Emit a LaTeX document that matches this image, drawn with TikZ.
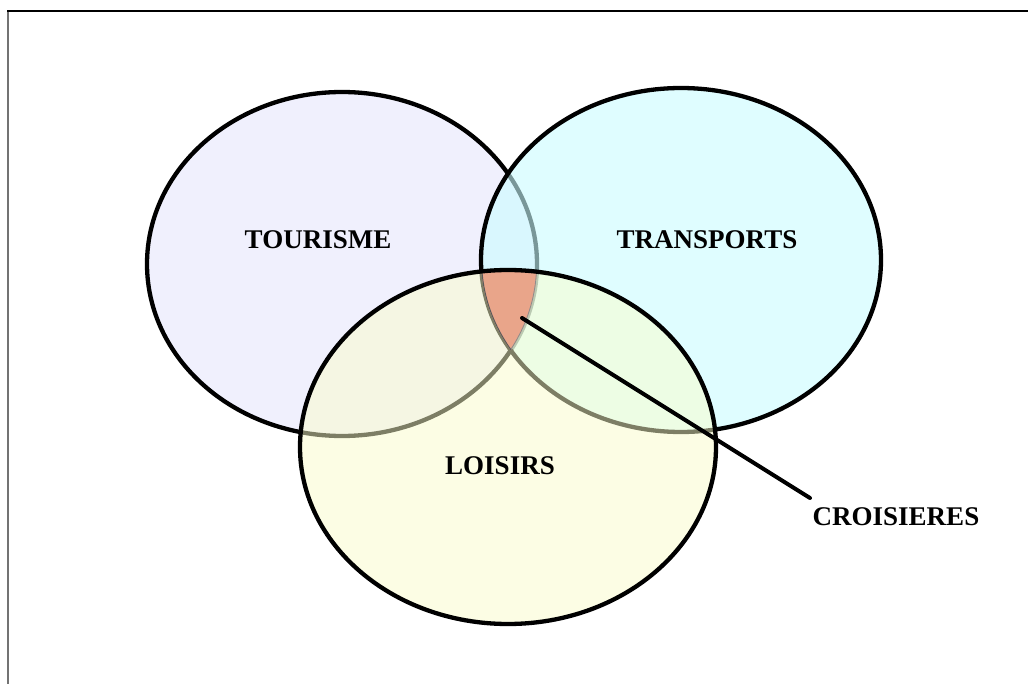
\documentclass[tikz,border=0pt]{standalone}
\usepackage{fontspec}
\setmainfont{Liberation Serif}
\begin{document}
\begin{tikzpicture}[x=1pt,y=-1pt,
  lbl/.style={font=\fontsize{27}{32}\selectfont\bfseries, inner sep=0pt, anchor=center},
  venn/.style={line width=4.3pt, draw=black}]
\useasboundingbox (0,0) rectangle (1028,684);
\fill[white] (0,0) rectangle (1028,684);
% frame
\draw[line width=2pt, black!55] (8,684) -- (8,11);
\draw[line width=2pt, black] (7,11) -- (1028,11);
% centres
\coordinate (tc) at (342,264);
\coordinate (pc) at (681,260);
\coordinate (lc) at (508,447);
\def\tourP{(tc) ellipse [x radius=195pt, y radius=172pt]}
\def\tranP{(pc) ellipse [x radius=200pt, y radius=172pt]}
\def\loisP{(lc) ellipse [x radius=208pt, y radius=177pt]}
% Tourisme
\filldraw[venn, fill={rgb,255:red,240;green,240;blue,253}] \tourP;
% Transports
\fill[fill={rgb,255:red,203;green,252;blue,255}, fill opacity=0.6] \tranP;
\draw[venn] \tranP;
% Loisirs fill
\fill[fill={rgb,255:red,251;green,253;blue,203}, fill opacity=0.5] \loisP;
% triple intersection
\begin{scope}
  \clip \tourP;
  \clip \tranP;
  \fill[fill={rgb,255:red,233;green,165;blue,138}] \loisP;
  \clip \loisP;
  \draw[line width=1.6pt, black!45] \tourP;
  \draw[line width=2pt, black!65] \tranP;
\end{scope}
\draw[venn] \loisP;
% labels
\node[lbl] (tour) at (318,240) {TOURISME};
\node[lbl] (tran) at (707,240) {TRANSPORTS};
\node[lbl] (lois) at (500,466) {LOISIRS};
\node[lbl] (crois) at (896,517) {CROISIERES};
% connector
\coordinate (cz) at (522,318);
\coordinate (cend) at (810,498);
\draw[line width=4pt, line cap=round] (cz) -- (cend);
\end{tikzpicture}
\end{document}
